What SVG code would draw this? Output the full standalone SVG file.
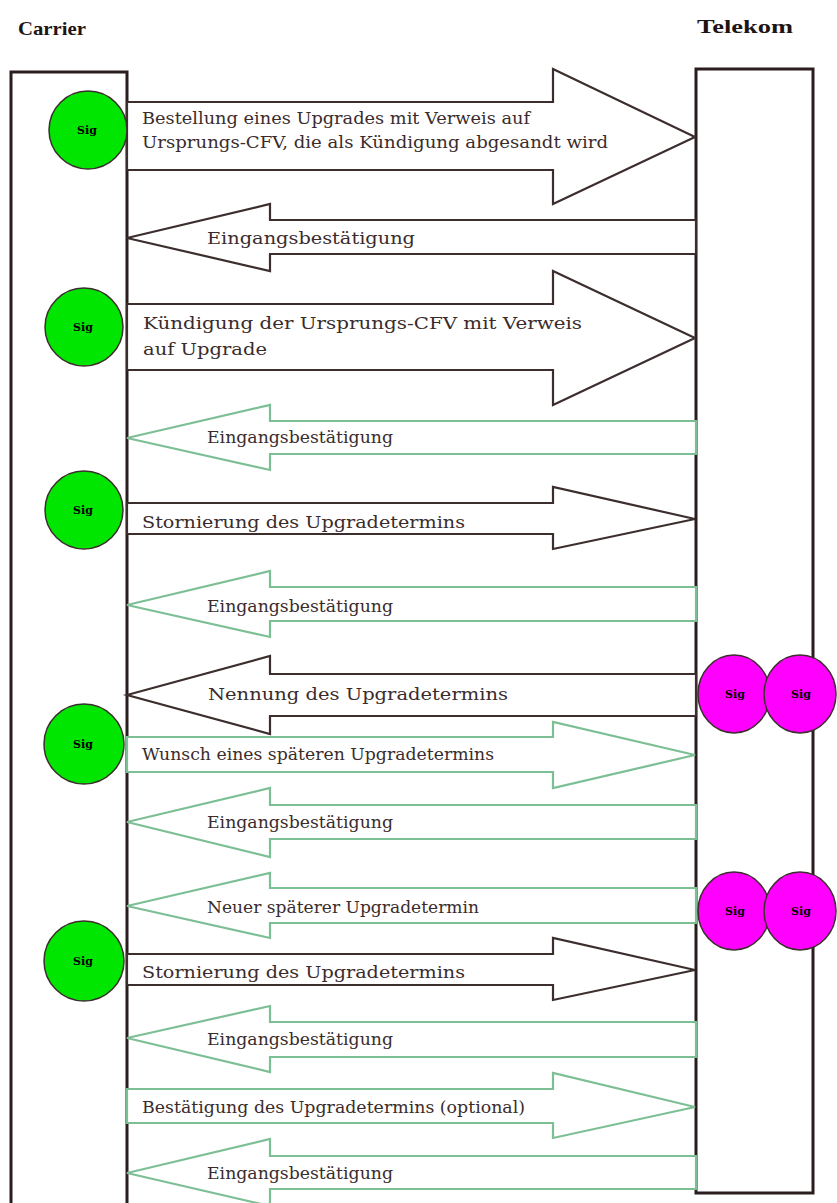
<svg xmlns="http://www.w3.org/2000/svg" width="837" height="1203" viewBox="0 0 837 1203">
<style>
.bg{fill:#ffffff}
.box{fill:#ffffff;stroke:#2b1d1d;stroke-width:3}
.ad{fill:#ffffff;stroke:#3d2e2e;stroke-width:2.2;stroke-linejoin:miter}
.ag{fill:#ffffff;stroke:#7dbf95;stroke-width:2.2;stroke-linejoin:miter}
.t{font-family:"DejaVu Serif","Liberation Serif",serif;font-size:16.5px;fill:#3a2c2c}
.title{font-family:"Liberation Serif","DejaVu Serif",serif;font-size:19px;font-weight:bold;fill:#1e1414}
.cg{fill:#00e600;stroke:#3d2e2e;stroke-width:1.5}
.cm{fill:#ff00ff;stroke:#3d2e2e;stroke-width:1.5}
.sig{font-family:"DejaVu Serif","Liberation Serif",serif;font-size:11px;font-weight:bold;fill:#000000;text-anchor:middle}
</style>
<rect class="bg" x="0" y="0" width="837" height="1203"/>
<text class="title" x="18" y="35" textLength="68" lengthAdjust="spacingAndGlyphs">Carrier</text>
<text class="title" x="697" y="33" textLength="96" lengthAdjust="spacingAndGlyphs">Telekom</text>
<g id="carrier"><path class="box" d="M11,1210 V72 H127 V1210"/></g>
<g id="telekom"><rect class="box" x="696" y="69" width="117" height="1124"/></g>
<g id="connectors">
<g id="m1"><polygon class="ad" points="127,102 553,102 553,69 695,137 553,204 553,170 127,170"/>
<text class="t" x="142" y="124" textLength="388" lengthAdjust="spacingAndGlyphs">Bestellung eines Upgrades mit Verweis auf</text>
<text class="t" x="142" y="148" textLength="466" lengthAdjust="spacingAndGlyphs">Ursprungs-CFV, die als Kündigung abgesandt wird</text></g>
<g id="m2"><polygon class="ad" points="127,238 270,204 270,220 696,220 696,254 270,254 270,271"/>
<text class="t" x="207" y="244" textLength="208" lengthAdjust="spacingAndGlyphs">Eingangsbestätigung</text></g>
<g id="m3"><polygon class="ad" points="127,304 553,304 553,271 695,338 553,405 553,370 127,370"/>
<text class="t" x="143" y="329" textLength="439" lengthAdjust="spacingAndGlyphs">Kündigung der Ursprungs-CFV mit Verweis</text>
<text class="t" x="143" y="355" textLength="124" lengthAdjust="spacingAndGlyphs">auf Upgrade</text></g>
<g id="m4"><polygon class="ag" points="127,438 270,405 270,421 696,421 696,454 270,454 270,470"/>
<text class="t" x="207" y="443" textLength="186" lengthAdjust="spacingAndGlyphs">Eingangsbestätigung</text></g>
<g id="m5"><polygon class="ad" points="127,503 553,503 553,487 695,519 553,549 553,534 127,534"/>
<text class="t" x="142" y="528" textLength="323" lengthAdjust="spacingAndGlyphs">Stornierung des Upgradetermins</text></g>
<g id="m6"><polygon class="ag" points="127,605 270,571 270,587 696,587 696,621 270,621 270,637"/>
<text class="t" x="207" y="612" textLength="186" lengthAdjust="spacingAndGlyphs">Eingangsbestätigung</text></g>
<g id="m7"><polygon class="ad" points="127,695 270,656 270,674 696,674 696,716 270,716 270,734"/>
<text class="t" x="208" y="700" textLength="300" lengthAdjust="spacingAndGlyphs">Nennung des Upgradetermins</text></g>
<g id="m8"><polygon class="ag" points="127,737 553,737 553,722 695,755 553,788 553,772 127,772"/>
<text class="t" x="142" y="760" textLength="352" lengthAdjust="spacingAndGlyphs">Wunsch eines späteren Upgradetermins</text></g>
<g id="m9"><polygon class="ag" points="127,822 270,788 270,805 696,805 696,839 270,839 270,857"/>
<text class="t" x="207" y="828" textLength="186" lengthAdjust="spacingAndGlyphs">Eingangsbestätigung</text></g>
<g id="m10"><polygon class="ag" points="127,906 270,873 270,888 696,888 696,923 270,923 270,938"/>
<text class="t" x="207" y="913" textLength="272" lengthAdjust="spacingAndGlyphs">Neuer späterer Upgradetermin</text></g>
<g id="m11"><polygon class="ad" points="127,954 553,954 553,938 695,970 553,1000 553,985 127,985"/>
<text class="t" x="142" y="978" textLength="323" lengthAdjust="spacingAndGlyphs">Stornierung des Upgradetermins</text></g>
<g id="m12"><polygon class="ag" points="127,1038 270,1006 270,1022 696,1022 696,1057 270,1057 270,1072"/>
<text class="t" x="207" y="1045" textLength="186" lengthAdjust="spacingAndGlyphs">Eingangsbestätigung</text></g>
<g id="m13"><polygon class="ag" points="127,1089 553,1089 553,1073 695,1107 553,1138 553,1123 127,1123"/>
<text class="t" x="142" y="1113" textLength="383" lengthAdjust="spacingAndGlyphs">Bestätigung des Upgradetermins (optional)</text></g>
<g id="m14"><polygon class="ag" points="127,1173 270,1139 270,1156 696,1156 696,1189 270,1189 270,1206"/>
<text class="t" x="207" y="1179" textLength="186" lengthAdjust="spacingAndGlyphs">Eingangsbestätigung</text></g>
</g>
<g id="sig-c1"><circle class="cg" cx="88" cy="130" r="39"/><text class="sig" x="87" y="134">Sig</text></g>
<g id="sig-c2"><circle class="cg" cx="84" cy="327" r="39"/><text class="sig" x="83" y="331">Sig</text></g>
<g id="sig-c3"><circle class="cg" cx="84" cy="510" r="39"/><text class="sig" x="83" y="514">Sig</text></g>
<g id="sig-c4"><circle class="cg" cx="84" cy="744" r="40"/><text class="sig" x="83" y="748">Sig</text></g>
<g id="sig-c5"><circle class="cg" cx="84" cy="961" r="40"/><text class="sig" x="83" y="965">Sig</text></g>
<g id="sig-t1"><ellipse class="cm" cx="734" cy="694" rx="36" ry="39"/><text class="sig" x="735" y="698">Sig</text></g>
<g id="sig-t2"><ellipse class="cm" cx="800" cy="694" rx="36" ry="39"/><text class="sig" x="801" y="698">Sig</text></g>
<g id="sig-t3"><ellipse class="cm" cx="734" cy="911" rx="36" ry="39"/><text class="sig" x="735" y="915">Sig</text></g>
<g id="sig-t4"><ellipse class="cm" cx="800" cy="911" rx="36" ry="39"/><text class="sig" x="801" y="915">Sig</text></g>
</svg>
